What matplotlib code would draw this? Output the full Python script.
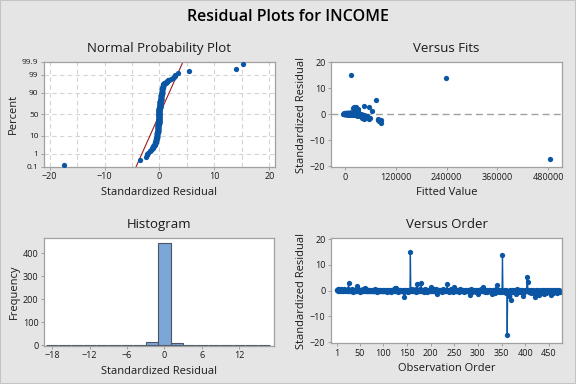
import numpy as np
import matplotlib
matplotlib.use("Agg")
import matplotlib.pyplot as plt
from matplotlib.patches import Rectangle
from statistics import NormalDist

plt.rcParams['font.family'] = ['Open Sans', 'DejaVu Sans']

# standardized residuals, in observation order
resid = [
    0.3, 0.1, 0.5, -0.1, 0.2, 0.6, 0.0, 0.4, -0.2, 0.1, 0.7, 0.3, 0.0, 0.2, -0.1, 0.5, 0.1, 0.3, 0.0, 0.4,
    0.2, -0.3, 0.1, 0.6, 0.0, 2.8, 0.3, -0.2, 0.1, 0.4, 0.0, -0.1, 0.2, 0.5, -0.4, 0.1, 0.0, 0.3, -0.2, 0.1,
    0.0, 0.4, -0.1, 0.2, 1.8, 0.8, 0.1, -0.3, 0.0, 0.3, -0.5, 0.1, 0.2, -0.1, 0.0, 0.5, -0.2, 0.1, 0.0, 1.1,
    0.1, -0.1, 0.0, 0.5, -0.2, 0.1, 0.0, -0.1, 0.3, 0.0, -0.3, 0.1, 0.0, -0.1, 0.4, 0.0, -0.2, 0.1, -0.1, 0.0,
    -0.1, 0.0, 0.6, -0.2, 0.1, 0.0, -0.4, 0.1, 0.0, -0.1, 0.3, -0.2, 0.0, 0.1, -0.1, 0.0, -0.3, 0.4, 0.0, -0.1,
    0.0, -0.2, 0.1, -0.1, 0.0, 0.4, -0.5, 0.0, 0.1, -0.2, 0.0, 0.2, -0.1, -0.3, 0.1, 0.0, -0.6, 0.3, -0.1, 0.0,
    0.1, -0.2, 0.5, 0.0, 1.2, -0.1, 0.9, -0.2, 0.1, 0.0, -0.4, 0.2, -0.1, 0.0, 0.3, -0.2, 0.1, -0.1, 0.0, -0.3,
    0.0, 0.2, -0.7, -2.5, 0.1, -0.1, 0.0, 0.3, -0.2, 0.0, 0.1, -0.4, 0.0, -0.1, 0.2, 0.0, 15.1, -0.3, 0.1, 0.6,
    0.0, -0.2, 0.4, 0.1, -0.1, 0.0, 0.2, -0.5, 0.7, 0.0, 2.7, 0.1, -0.2, 0.3, 0.0, -0.1, 0.5, -0.3, 0.0, 2.9,
    0.1, -0.1, 0.0, 0.2, -0.4, 0.0, 0.6, -0.2, 0.1, 0.0, -0.1, 0.3, -0.6, 0.0, 0.1, -0.2, 0.4, 0.0, -0.1, 1.3,
    0.0, 0.2, -0.3, 0.1, 0.0, -0.1, 0.5, -0.2, 0.0, 0.1, 0.8, -0.1, 0.0, -1.2, 0.2, -0.3, 0.1, 0.0, -0.1, 0.3,
    -0.2, 0.0, 0.1, -0.5, 0.0, 0.7, -0.1, 0.0, 0.4, -0.3, 0.1, 0.0, -0.2, 0.1, 2.4, 0.0, -0.1, 0.3, -0.4, 0.0,
    0.1, -0.2, 0.0, 0.5, -0.1, 0.0, -0.6, 0.1, 0.0, 1.4, -0.3, 0.1, 0.0, -0.1, 0.4, -0.2, 0.0, 0.1, -0.4, 0.0,
    0.6, -0.1, 0.0, 0.1, -0.3, 0.0, 0.3, -0.2, 0.1, 0.0, -0.5, 0.3, -0.1, 0.0, 0.1, -0.2, 0.0, 0.4, -0.1, 0.0,
    0.1, -0.3, 0.0, -1.8, 0.5, -0.1, 0.0, -0.4, 0.1, 0.0, -0.2, 0.3, 0.0, -0.1, 0.1, -0.5, 0.0, 0.4, -0.2, -1.1,
    0.0, 0.1, -0.1, 0.0, -0.3, 0.5, 0.0, -0.2, 0.1, 1.6, 0.0, -0.1, 0.3, -0.4, 0.0, 0.1, -0.2, 0.0, -0.7, 0.1,
    -0.1, 0.0, 0.2, -0.3, 0.0, 0.1, -0.5, 0.0, -0.2, -1.4, 0.4, -0.1, 0.0, -0.3, 0.1, -0.8, 0.0, 0.2, 0.6, -0.2,
    2.1, -0.1, 0.0, -0.4, 0.1, -0.2, 0.0, -0.6, 0.3, -0.1, -0.3, 14.0, -0.2, 0.0, -0.5, 0.1, -0.3, 0.0, -0.9, 0.2,
    -0.1, -17.3, -0.4, 0.0, -0.2, -2.0, 0.1, -0.5, 0.0, -0.3, -3.6, -0.1, 0.2, -0.6, 0.0, -0.2, 0.1, -0.4, 0.0, -1.3,
    0.0, -0.2, 0.5, -0.1, 0.0, -0.5, 0.1, -0.3, 0.0, 0.2, -0.1, -0.7, 0.0, 0.1, -2.2, -0.2, 0.0, -0.4, 0.1, -0.1,
    0.0, -0.3, 0.2, 5.4, 3.3, -0.1, 0.0, -0.5, 0.1, -0.2, 0.0, -0.8, 0.3, -0.1, 0.0, -0.4, 0.1, -0.6, -0.9, -2.3,
    -0.7, 0.0, -0.3, 0.1, -1.0, -0.2, 0.0, 0.4, -0.5, -1.7, 0.0, -0.1, 0.2, -0.8, 0.0, -0.3, 0.1, -0.6, 0.0, -1.1,
    -0.2, 0.1, 0.0, -0.4, -0.9, 0.4, -0.1, 0.0, -0.5, 0.1, -0.3, 0.0, -0.7, 0.1, -1.6, -0.2, 0.0, -0.8, 0.3, -0.1,
    0.0, -0.4, 0.1, -0.6, -0.2, 0.0, 0.2, -1.0, -0.3, 0.0, -0.5, 0.1, -0.7,
]

# fitted values in thousands, same order
fitted_k = [
    2, 8, 15, 20, 5, 18, 12, 10, 26, -3, 22, 6, 30, 14, 24, 16, 9, 1, 33, 13,
    4, 28, 11, 21, 17, 22, 7, 31, 0, 12, 25, 19, 3, 17, 35, 6, 14, -2, 27, 10,
    20, 15, 23, 8, 27, 19, 5, 33, 11, 2, 38, 13, 9, 26, 29, 21, 30, -4, 16, 64,
    7, 22, 18, 14, 29, 1, 24, 17, 4, 10, 34, 12, 28, 20, 11, 6, 26, 15, 23, 32,
    19, 9, 20, 27, 3, 15, 36, 8, 21, 25, 5, 30, 13, 16, 22, -1, 32, 12, 18, 24,
    11, 28, 6, 21, 35, 16, 41, 2, 14, 26, 19, 9, 17, 31, 0, 23, 44, 7, 29, 13,
    10, 25, 19, 4, 26, 18, 23, 33, 8, 27, 37, 14, 20, 12, 3, 29, 17, 22, 31, 34,
    15, 6, 46, 80, 12, 24, 9, 18, 28, 21, -2, 39, 26, 16, 11, 5, 14, 30, 20, 24,
    13, 32, 17, 7, 23, 19, 10, 40, 25, 28, 25, 4, 27, 14, 22, 18, 20, 35, 1, 56,
    8, 21, 16, 12, 37, 27, 22, 29, 3, 11, 19, 15, 45, 24, 6, 33, 13, 17, 26, 28,
    20, 9, 33, 14, 2, 23, 21, 27, 16, 5, 30, 18, 25, 48, 11, 36, 0, 12, 29, 7,
    26, 14, 10, 42, 22, 24, 17, 8, 19, 35, 4, 28, 31, 13, 18, 21, 23, 9, 38, 15,
    5, 30, 17, 20, 25, 11, 43, 13, 27, 31, 34, -3, 19, 22, 16, 28, 7, 10, 39, 24,
    22, 18, 12, 6, 33, 26, 15, 29, 9, 20, 41, 11, 24, 3, 14, 27, 30, 19, 21, 16,
    12, 35, 23, 45, 21, 19, 8, 37, 15, 28, 25, 10, 17, 22, 2, 40, 13, 16, 31, 50,
    18, 7, 24, 14, 32, 20, 27, 29, 11, 27, 4, 21, 13, 38, 25, 9, 30, 16, 44, 6,
    23, 15, 10, 34, 20, 1, 42, 26, 28, 58, 18, 22, 12, 36, 8, 47, 19, 14, 25, 31,
    30, 24, 17, 39, 5, 27, 21, 44, 13, 19, 33, 239, 29, 11, 41, 16, 35, 22, 49, 9,
    26, 485, 38, 14, 30, 79, 10, 43, 20, 35, 84, 22, 7, 46, 17, 32, 12, 40, 24, 55,
    19, 31, 21, 25, 13, 42, 8, 36, 27, 15, 23, 48, 16, 4, 86, 29, 11, 39, 18, 26,
    21, 34, 9, 74, 44, 27, 14, 40, 6, 30, 18, 47, 12, 24, 28, 37, 16, 45, 52, 77,
    44, 20, 33, 13, 51, 29, 25, 19, 41, 57, 15, 23, 10, 48, 22, 35, 7, 43, 26, 53,
    28, 11, 17, 37, 49, 21, 24, 30, 42, 5, 34, 19, 46, 14, 40, 31, 23, 50, 16, 27,
    20, 38, 9, 45, 32, 26, 12, 53, 36, 18, 43, 15, 47,
]

prob_ticks = [0.1, 1, 10, 50, 90, 99, 99.9]
order_ticks = [1, 50, 100, 150, 200, 250, 300, 350, 400, 450]
fit_ticks = [0, 120000, 240000, 360000, 480000]
hist_ticks = [-18, -12, -6, 0, 6, 12]

BLUE = '#0B56A4'
BG = '#E5E5E5'
SPINE = '#A0A0A0'
TXT = '#1A1A1A'

resid = np.array(resid)
fitted = np.array(fitted_k) * 1000
n = len(resid)
nd = NormalDist()

fig = plt.figure(figsize=(5.76, 3.84), dpi=100, facecolor=BG)
fig.patches.append(Rectangle((0, 0), 1, 1, transform=fig.transFigure,
                             fill=False, edgecolor='#C4C4C4', lw=1.5))
fig.text(0.5, 0.955, 'Residual Plots for INCOME', ha='center', va='center',
         fontsize=11.5, fontweight='semibold', color='black')

ax1 = fig.add_axes([0.0764, 0.566, 0.401, 0.273])
ax2 = fig.add_axes([0.5747, 0.565, 0.401, 0.2735])
ax3 = fig.add_axes([0.0764, 0.0997, 0.3993, 0.2803])
ax4 = fig.add_axes([0.5747, 0.106, 0.401, 0.274])


def style(ax, title, xlabel, ylabel):
    ax.set_facecolor('white')
    for s in ax.spines.values():
        s.set_color(SPINE)
        s.set_linewidth(0.9)
    ax.tick_params(colors=SPINE, labelcolor=TXT, labelsize=6.5, length=2.5, width=0.7, pad=1.5)
    ax.set_title(title, fontsize=9.5, color=TXT, pad=7)
    ax.set_xlabel(xlabel, fontsize=8, color=TXT, labelpad=4)
    ax.set_ylabel(ylabel, fontsize=8, color=TXT, labelpad=2)


# Normal probability plot
srt = np.sort(resid)
pct = (np.arange(1, n + 1) - 0.3) / (n + 0.4)
z = np.array([nd.inv_cdf(p) for p in pct])
zlo, zhi = nd.inv_cdf(0.001), nd.inv_cdf(0.999)
for gx in range(-20, 21, 5):
    ax1.axvline(gx, color='#D4D4D4', lw=0.8, ls=(0, (4, 3)), zorder=0)
for p in prob_ticks[1:-1]:
    ax1.axhline(nd.inv_cdf(p / 100), color='#D4D4D4', lw=0.8, ls=(0, (4, 3)), zorder=0)
mu, sd = resid.mean(), resid.std(ddof=1)
ax1.plot([mu + sd * zlo, mu + sd * zhi], [zlo, zhi], color='#A01818', lw=0.8, zorder=2)
ax1.plot(srt, z, 'o', color=BLUE, ms=3.8, mec='none', zorder=3)
ax1.set_xlim(-21, 21)
ax1.set_ylim(zlo, zhi)
ax1.set_xticks([-20, -10, 0, 10, 20])
ax1.set_yticks([nd.inv_cdf(p / 100) for p in prob_ticks])
ax1.set_yticklabels([str(p) for p in prob_ticks])
style(ax1, 'Normal Probability Plot', 'Standardized Residual', 'Percent')
ax1.tick_params(axis='y', labelsize=6)

# Versus fits
ax2.axhline(0, color='#A0A0A0', lw=1, ls=(0, (5, 3)), zorder=1)
ax2.plot(fitted, resid, 'o', color=BLUE, ms=3.8, mec='none', zorder=3)
ax2.set_xlim(-33000, 513000)
ax2.set_ylim(-20.4, 20.1)
ax2.set_xticks(fit_ticks)
ax2.set_xticklabels([str(t) for t in fit_ticks])
ax2.set_yticks([-20, -10, 0, 10, 20])
style(ax2, 'Versus Fits', 'Fitted Value', 'Standardized Residual')

# Histogram
ax3.hist(resid, bins=np.arange(-19, 19, 2), color='#7BA6D8', edgecolor='#4A5668', lw=0.8)
ax3.set_xlim(-19.3, 17.6)
ax3.set_ylim(-3, 467)
ax3.set_xticks(hist_ticks)
ax3.set_yticks([0, 100, 200, 300, 400])
style(ax3, 'Histogram', 'Standardized Residual', 'Frequency')

# Versus order
obs = np.arange(1, n + 1)
ax4.plot(obs, resid, '-o', color=BLUE, lw=0.9, ms=3.8, mec='none')
ax4.set_xlim(-11, 478)
ax4.set_ylim(-20.4, 20.4)
ax4.set_xticks(order_ticks)
ax4.set_yticks([-20, -10, 0, 10, 20])
style(ax4, 'Versus Order', 'Observation Order', 'Standardized Residual')

fig.savefig('out.png', dpi=100, facecolor=BG)
